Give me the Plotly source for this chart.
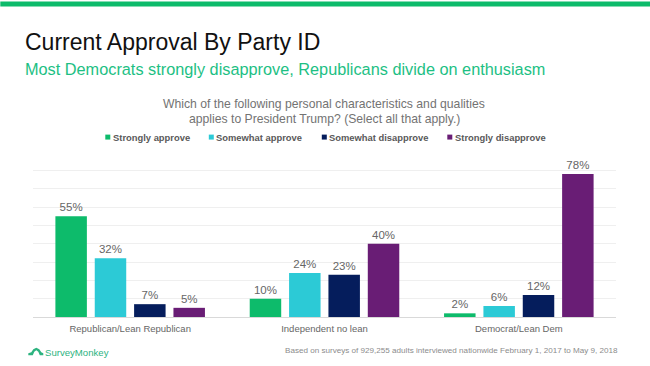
import plotly.graph_objects as go

categories = ["Republican/Lean Republican", "Independent no lean", "Democrat/Lean Dem"]
series_names = ["Strongly approve", "Somewhat approve", "Somewhat disapprove", "Strongly disapprove"]
strongly_approve = [55, 10, 2]
somewhat_approve = [32, 24, 6]
somewhat_disapprove = [7, 23, 12]
strongly_disapprove = [5, 40, 78]
colors = ["#0DBB6B", "#2CCAD6", "#051D5C", "#691D75"]
legend_x = [105, 208.5, 321.5, 447]

W, H = 650, 366
L, R, T, B = 32.7, 34.3, 151.5, 48.5
FONT = "Liberation Sans"
fig = go.Figure()
for name, vals, c in zip(series_names, [strongly_approve, somewhat_approve, somewhat_disapprove, strongly_disapprove], colors):
    fig.add_trace(go.Bar(x=categories, y=vals, name=name, marker=dict(color=c, line_width=0),
                         text=[f"{v}%" for v in vals], textposition="outside", cliponaxis=False,
                         textfont=dict(family=FONT, size=11.5, color="#666666")))

def px(x): return (x - L) / (W - L - R)
def py(y): return (H - B - y) / (H - T - B)

shapes = [dict(type="rect", xref="paper", yref="paper", x0=px(0), x1=px(W), y0=py(5), y1=py(0), fillcolor="#0DBB6B", line_width=0, layer="below")]
ann = [
    dict(x=px(23), y=py(40.5), text="Current Approval By Party ID", font=dict(size=23, color="#111111")),
    dict(x=px(23), y=py(67.5), text="Most Democrats strongly disapprove, Republicans divide on enthusiasm", font=dict(size=16.3, color="#1DBF84")),
    dict(x=px(324), y=py(103), xanchor="center", text="Which of the following personal characteristics and qualities", font=dict(size=12.2, color="#737373")),
    dict(x=px(324), y=py(118), xanchor="center", text="applies to President Trump? (Select all that apply.)", font=dict(size=12.2, color="#737373")),
    dict(x=px(283), y=py(351.5), text="Based on surveys of 929,255 adults interviewed nationwide February 1, 2017 to May 9, 2018", font=dict(size=8.1, color="#8C8C8C")),
    dict(x=px(42.5), y=py(353.5), text="SurveyMonkey", font=dict(size=9.6, color="#2DB37F")),
]
for name, c, lx in zip(series_names, colors, legend_x):
    shapes.append(dict(type="rect", xref="paper", yref="paper", x0=px(lx), x1=px(lx + 5), y0=py(139), y1=py(134), fillcolor=c, line_width=0))
    ann.append(dict(x=px(lx + 5.5), y=py(137), text=f"<b>{name}</b>", font=dict(size=9.4, color="#595959")))
for a in ann:
    a.update(xref="paper", yref="paper", showarrow=False, yanchor="middle")
    a.setdefault("xanchor", "left")
# SurveyMonkey logo glyph
shapes.append(dict(type="path", xref="paper", yref="paper",
    path=" ".join(f"{c} {px(x):.5f} {py(y):.5f}" for c, x, y in [("M", 28, 356), ("L", 28, 354), ("L", 31, 353), ("L", 33, 350), ("L", 36, 348.5), ("L", 39, 350), ("L", 41, 353), ("L", 43, 354), ("L", 43, 356), ("L", 39.5, 356), ("L", 38, 352.5), ("L", 36, 351), ("L", 34, 352.5), ("L", 32.5, 356)]) + " Z",
    fillcolor="#2DB37F", line_width=0))

fig.update_layout(
    width=W, height=H, autosize=False, showlegend=False, barmode="group", bargap=0.19, bargroupgap=0.2,
    paper_bgcolor="white", plot_bgcolor="white",
    margin=dict(l=L, r=R, t=T, b=B),
    font=dict(family=FONT), shapes=shapes, annotations=ann,
    xaxis=dict(showgrid=False, showline=True, linecolor="#D9D9D9", linewidth=1, ticks="", ticklabelstandoff=3,
               tickfont=dict(family=FONT, size=9.5, color="#666666")),
    yaxis=dict(range=[0, 90], dtick=10, showticklabels=False, gridcolor="#EFEFEF", gridwidth=1, zeroline=False, ticks=""),
)
fig.write_html("out.html", config={"displayModeBar": False},
               post_script="document.body.style.margin='0';document.body.style.overflow='hidden';")
